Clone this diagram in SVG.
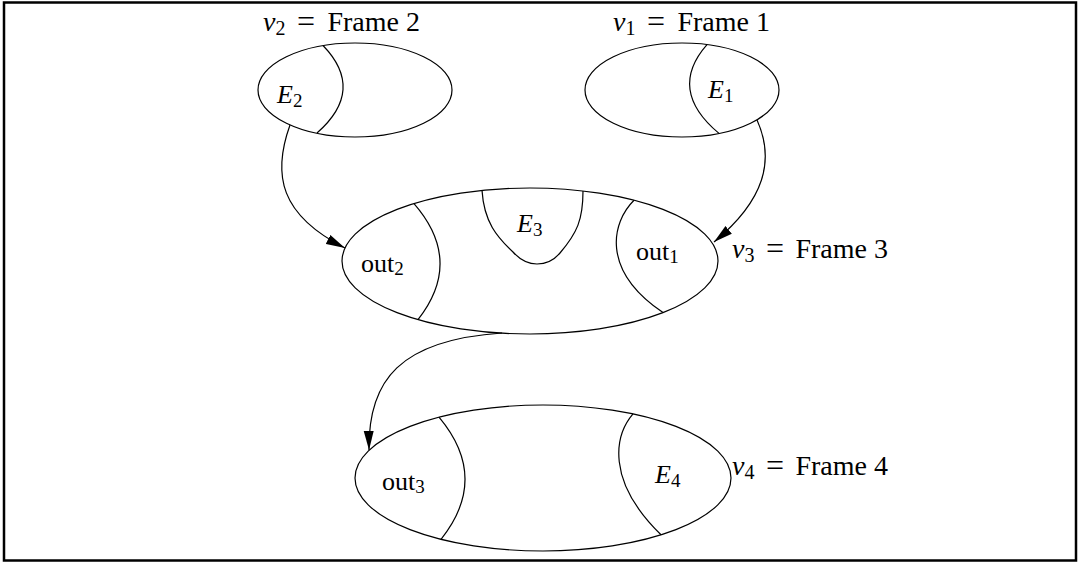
<svg xmlns="http://www.w3.org/2000/svg" width="1079" height="563" viewBox="0 0 1079 563">
<style>
.sh{fill:none;stroke:#000;stroke-width:1.2}
.t{font-family:"Liberation Serif",serif;font-size:26px;fill:#000}
.big{font-size:28px}
.eq{font-size:32px}
.it{font-style:italic}
.sub{font-size:19px}
.bsub{font-size:20px}
</style>
<defs>
<marker id="ah" markerUnits="userSpaceOnUse" markerWidth="20" markerHeight="11" refX="19" refY="5.5" orient="auto" viewBox="0 0 20 11">
<path d="M0,0.5 L19,5.5 L0,10.5 z" fill="#000"/>
</marker>
</defs>
<rect x="4" y="2.5" width="1072" height="558" fill="#fff" stroke="#000" stroke-width="2.5"/>

<g id="v2">
<ellipse class="sh" cx="355" cy="90" rx="97" ry="47"/>
<path class="sh" d="M323,45.5 Q366,90 317,133"/>
<text class="t it" x="277" y="103">E<tspan class="sub" font-style="normal" dy="4">2</tspan></text>
<text class="t big" y="31"><tspan class="it" x="263">v</tspan><tspan class="bsub" dy="4">2</tspan></text>
<text class="t eq" x="306" y="32" text-anchor="middle">=</text>
<text class="t big" x="420" y="31" text-anchor="end">Frame 2</text>
</g>

<g id="v1">
<ellipse class="sh" cx="682" cy="90" rx="97" ry="47"/>
<path class="sh" d="M707,44.6 Q667,90 719,133.4"/>
<text class="t it" x="708" y="98">E<tspan class="sub" font-style="normal" dy="4">1</tspan></text>
<text class="t big" y="31"><tspan class="it" x="613">v</tspan><tspan class="bsub" dy="4">1</tspan></text>
<text class="t eq" x="656" y="32" text-anchor="middle">=</text>
<text class="t big" x="770" y="31" text-anchor="end">Frame 1</text>
</g>

<g id="v3">
<ellipse class="sh" cx="530" cy="261" rx="188" ry="73"/>
<path class="sh" d="M414,203.6 Q464,261 418,319.6"/>
<path class="sh" d="M634,200.2 C612,222 600,270 663,312.6"/>
<path class="sh" d="M482,190.4 C484,222 497,237 513,252 C522,262 530,264 537,264 C547,264 555,259 560,253 C577,233 583,220 583,191"/>
<text class="t it" x="517" y="232">E<tspan class="sub" font-style="normal" dy="4">3</tspan></text>
<text class="t" x="361" y="272">out<tspan class="sub" dy="3">2</tspan></text>
<text class="t" x="636" y="260">out<tspan class="sub" dy="3">1</tspan></text>
<text class="t big" y="258"><tspan class="it" x="732">v</tspan><tspan class="bsub" dy="4">3</tspan></text>
<text class="t eq" x="775" y="259" text-anchor="middle">=</text>
<text class="t big" x="888" y="258" text-anchor="end">Frame 3</text>
</g>

<g id="v4">
<ellipse class="sh" cx="543" cy="478" rx="188" ry="73"/>
<path class="sh" d="M439,417.2 Q490,478 441,539.3"/>
<path class="sh" d="M633,413.9 C615,435 605,480 661,534.8"/>
<text class="t" x="382" y="490">out<tspan class="sub" dy="3">3</tspan></text>
<text class="t it" x="655" y="483">E<tspan class="sub" font-style="normal" dy="4">4</tspan></text>
<text class="t big" y="475"><tspan class="it" x="732">v</tspan><tspan class="bsub" dy="4">4</tspan></text>
<text class="t eq" x="775" y="476" text-anchor="middle">=</text>
<text class="t big" x="888" y="475" text-anchor="end">Frame 4</text>
</g>

<g id="connectors">
<path class="sh" d="M290,125 C272,175 280,215 345,248" marker-end="url(#ah)"/>
<path class="sh" d="M757,120 C775,160 765,200 714,242" marker-end="url(#ah)"/>
<path class="sh" d="M502,333 C400,340 368,380 369,450" marker-end="url(#ah)"/>
</g>
</svg>
